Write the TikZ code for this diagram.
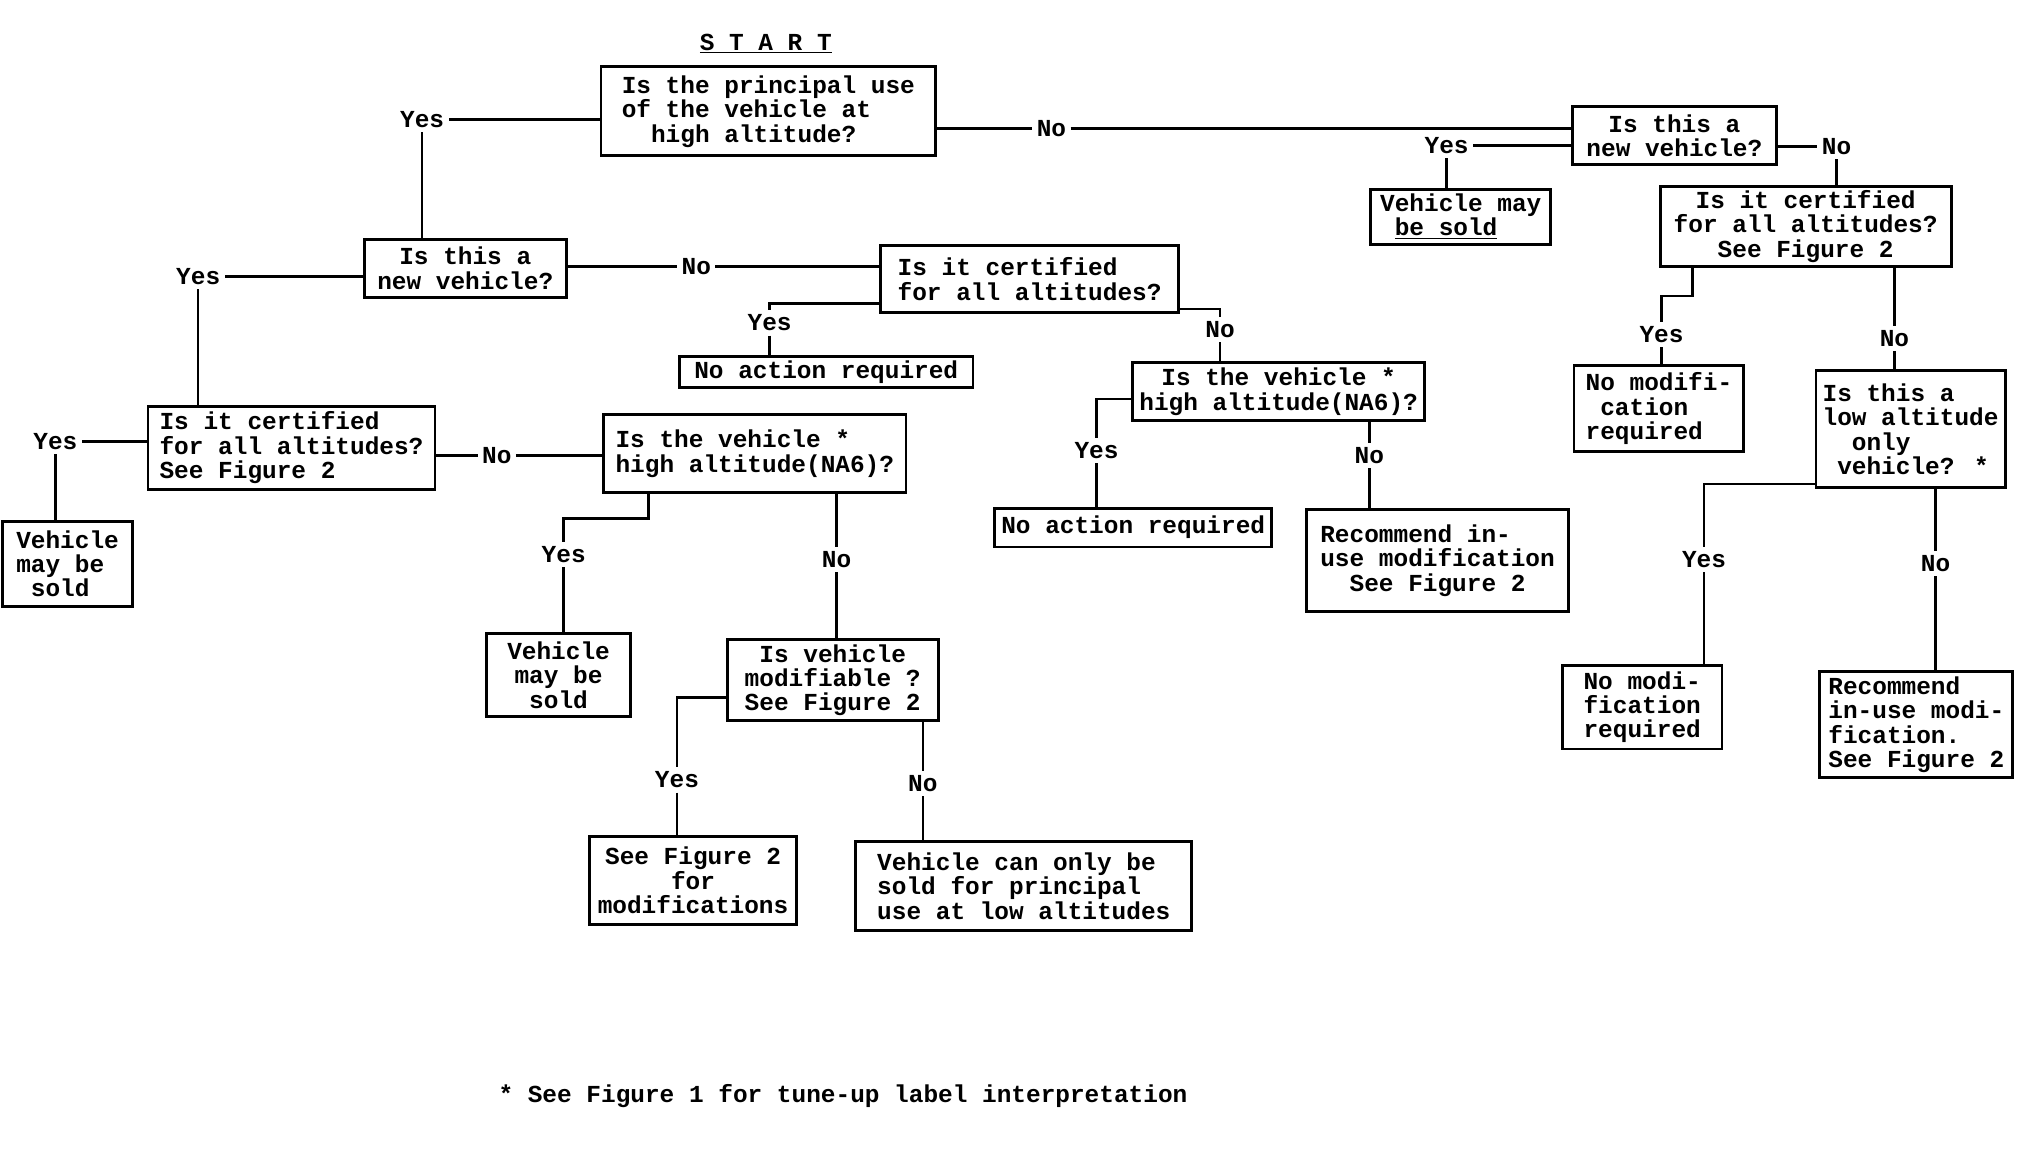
\documentclass[tikz,border=0pt]{standalone}
\usepackage{fontspec}
\newfontfamily\typer{Liberation Mono}
\tikzset{
  box/.style={draw, line width=1.6pt, inner xsep=1mm, inner ysep=0.5mm, align=center},
  sz/.style n args={2}{minimum width=#1*0.25mm, minimum height=#2*0.25mm},
  ans/.style={inner sep=0.8mm},
  wire/.style={line width=1.4pt}
}
\begin{document}
\begin{tikzpicture}[x = 0.25mm, y = -0.25mm, font = \typer\bfseries\fontsize{13.5pt}{13.5pt}\selectfont]
        \useasboundingbox (0, 0) rectangle (1568, 895);
        \node (start) at (595, 34) {\underline{S T A R T}};
        % questions
        \node[box, sz = {260}{69}, align = left] (qA) at (597, 86.5) {Is the principal use\\of the vehicle at\\\ \ high altitude?};
        \node[box, sz = {158}{45}] (qC) at (1301, 105.5) {Is this a\\new vehicle?};
        \node[box, sz = {226}{62}] (qE) at (1403, 176) {Is it certified\\for all altitudes?\\See Figure 2};
        \node[box, sz = {147}{91}, align = left] (qG) at (1484.5, 333.5) {Is this a\\low altitude\\\ \ only\\\ vehicle? *};
        \node[box, sz = {157}{45}] (qB) at (361.5, 208.5) {Is this a\\new vehicle?};
        \node[box, sz = {232}{52}, align = left] (qJ) at (800, 217) {Is it certified\\for all altitudes?};
        \node[box, sz = {223}{64}, align = left] (qK) at (226.5, 348) {Is it certified\\for all altitudes?\\See Figure 2};
        \node[box, sz = {227}{45}] (qM) at (993.5, 304.5) {Is the vehicle *\\high altitude(NA6)?};
        \node[box, sz = {235}{61}, align = left] (qQ) at (586.5, 352.5) {Is the vehicle *\\high altitude(NA6)?};
        \node[box, sz = {164}{63}] (qS) at (647, 528.5) {Is vehicle\\modifiable ?\\See Figure 2};
        % outcomes
        \node[box, sz = {140}{43}, align = left] (qD) at (1135, 168.5) {Vehicle may\\\ \underline{be sold}};
        \node[box, sz = {132}{67}, align = left] (qF) at (1289, 317.5) {No modifi-\\\ cation\\required};
        \node[box, sz = {124}{65}, align = left] (qH) at (1276, 549.5) {No modi-\\fication\\required};
        \node[box, sz = {150}{82}, align = left] (qI) at (1489, 563) {Recommend\\in-use modi-\\fication.\\See Figure 2};
        \node[box, sz = {228}{24}] (qL) at (642, 289) {No action required};
        \node[box, sz = {215}{30}] (qN) at (880.5, 410) {No action required};
        \node[box, sz = {204}{79}, align = left] (qO) at (1117, 435.5) {Recommend in-\\use modification\\\ \ See Figure 2};
        \node[box, sz = {101}{66}, align = left] (qP) at (52.5, 438) {Vehicle\\may be\\\ sold};
        \node[box, sz = {112}{65}] (qR) at (434, 524.5) {Vehicle\\may be\\sold};
        \node[box, sz = {161}{68}] (qT) at (538.5, 684) {See Figure 2\\for\\modifications};
        \node[box, sz = {261}{69}, align = left] (qU) at (795.5, 688.5) {Vehicle can only be\\sold for principal\\use at low altitudes};
        % answers on the lines
        \foreach \v/\t/\x/\y in {yA/Yes/328/93, nA/No/817/100, yC/Yes/1124/113, nC/No/1427/114,
            yE/Yes/1291/260, nE/No/1472/263, yG/Yes/1324/435, nG/No/1504/438,
            nB/No/541/207, yB/Yes/154/215, yJ/Yes/598/251, nJ/No/948/256,
            yM/Yes/852/350, nM/No/1064/354, yK/Yes/43/343, nK/No/386/354,
            yQ/Yes/438/431, nQ/No/650/435, yS/Yes/526/606, nS/No/717/609}{
            \node[ans] (\v) at (\x, \y) {\t};
        }
        \draw[wire] (qA.west |- yA) -- (yA) -- (yA |- qB.north);
        \draw[wire] (qA.east |- nA) -- (nA) -- (nA -| qC.west);
        \draw[wire] (qC.west |- yC) -- (yC) -- (yC |- qD.north);
        \draw[wire] (qC.east |- nC) -- (nC) -- (nC |- qE.north);
        \draw[wire] (1315, 0 |- qE.south) |- (1291, 230) -- (yE) -- (yE |- qF.north);
        \draw[wire] (nE |- qE.south) -- (nE) -- (nE |- qG.north);
        \draw[wire] (qG.west |- 0, 376) -| (yG) -- (yG |- qH.north);
        \draw[wire] (nG |- qG.south) -- (nG) -- (nG |- qI.north);
        \draw[wire] (qB.east |- nB) -- (nB) -- (nB -| qJ.west);
        \draw[wire] (qB.west |- yB) -- (yB) -- (yB |- qK.north);
        \draw[wire] (qJ.west |- 0, 236) -| (yJ) -- (yJ |- qL.north);
        \draw[wire] (qJ.east |- 0, 240) -| (nJ) -- (nJ |- qM.north);
        \draw[wire] (qM.west |- 0, 310) -| (yM) -- (yM |- qN.north);
        \draw[wire] (nM |- qM.south) -- (nM) -- (nM |- qO.north);
        \draw[wire] (qK.west |- yK) -- (yK) -- (yK |- qP.north);
        \draw[wire] (qK.east |- nK) -- (nK) -- (nK -| qQ.west);
        \draw[wire] (504, 0 |- qQ.south) |- (438, 403) -- (yQ) -- (yQ |- qR.north);
        \draw[wire] (nQ |- qQ.south) -- (nQ) -- (nQ |- qS.north);
        \draw[wire] (qS.west |- 0, 542) -| (yS) -- (yS |- qT.north);
        \draw[wire] (nS |- qS.south) -- (nS) -- (nS |- qU.north);
        \node (note) at (655, 852) {* See Figure 1 for tune-up label interpretation};
\end{tikzpicture}
\end{document}
